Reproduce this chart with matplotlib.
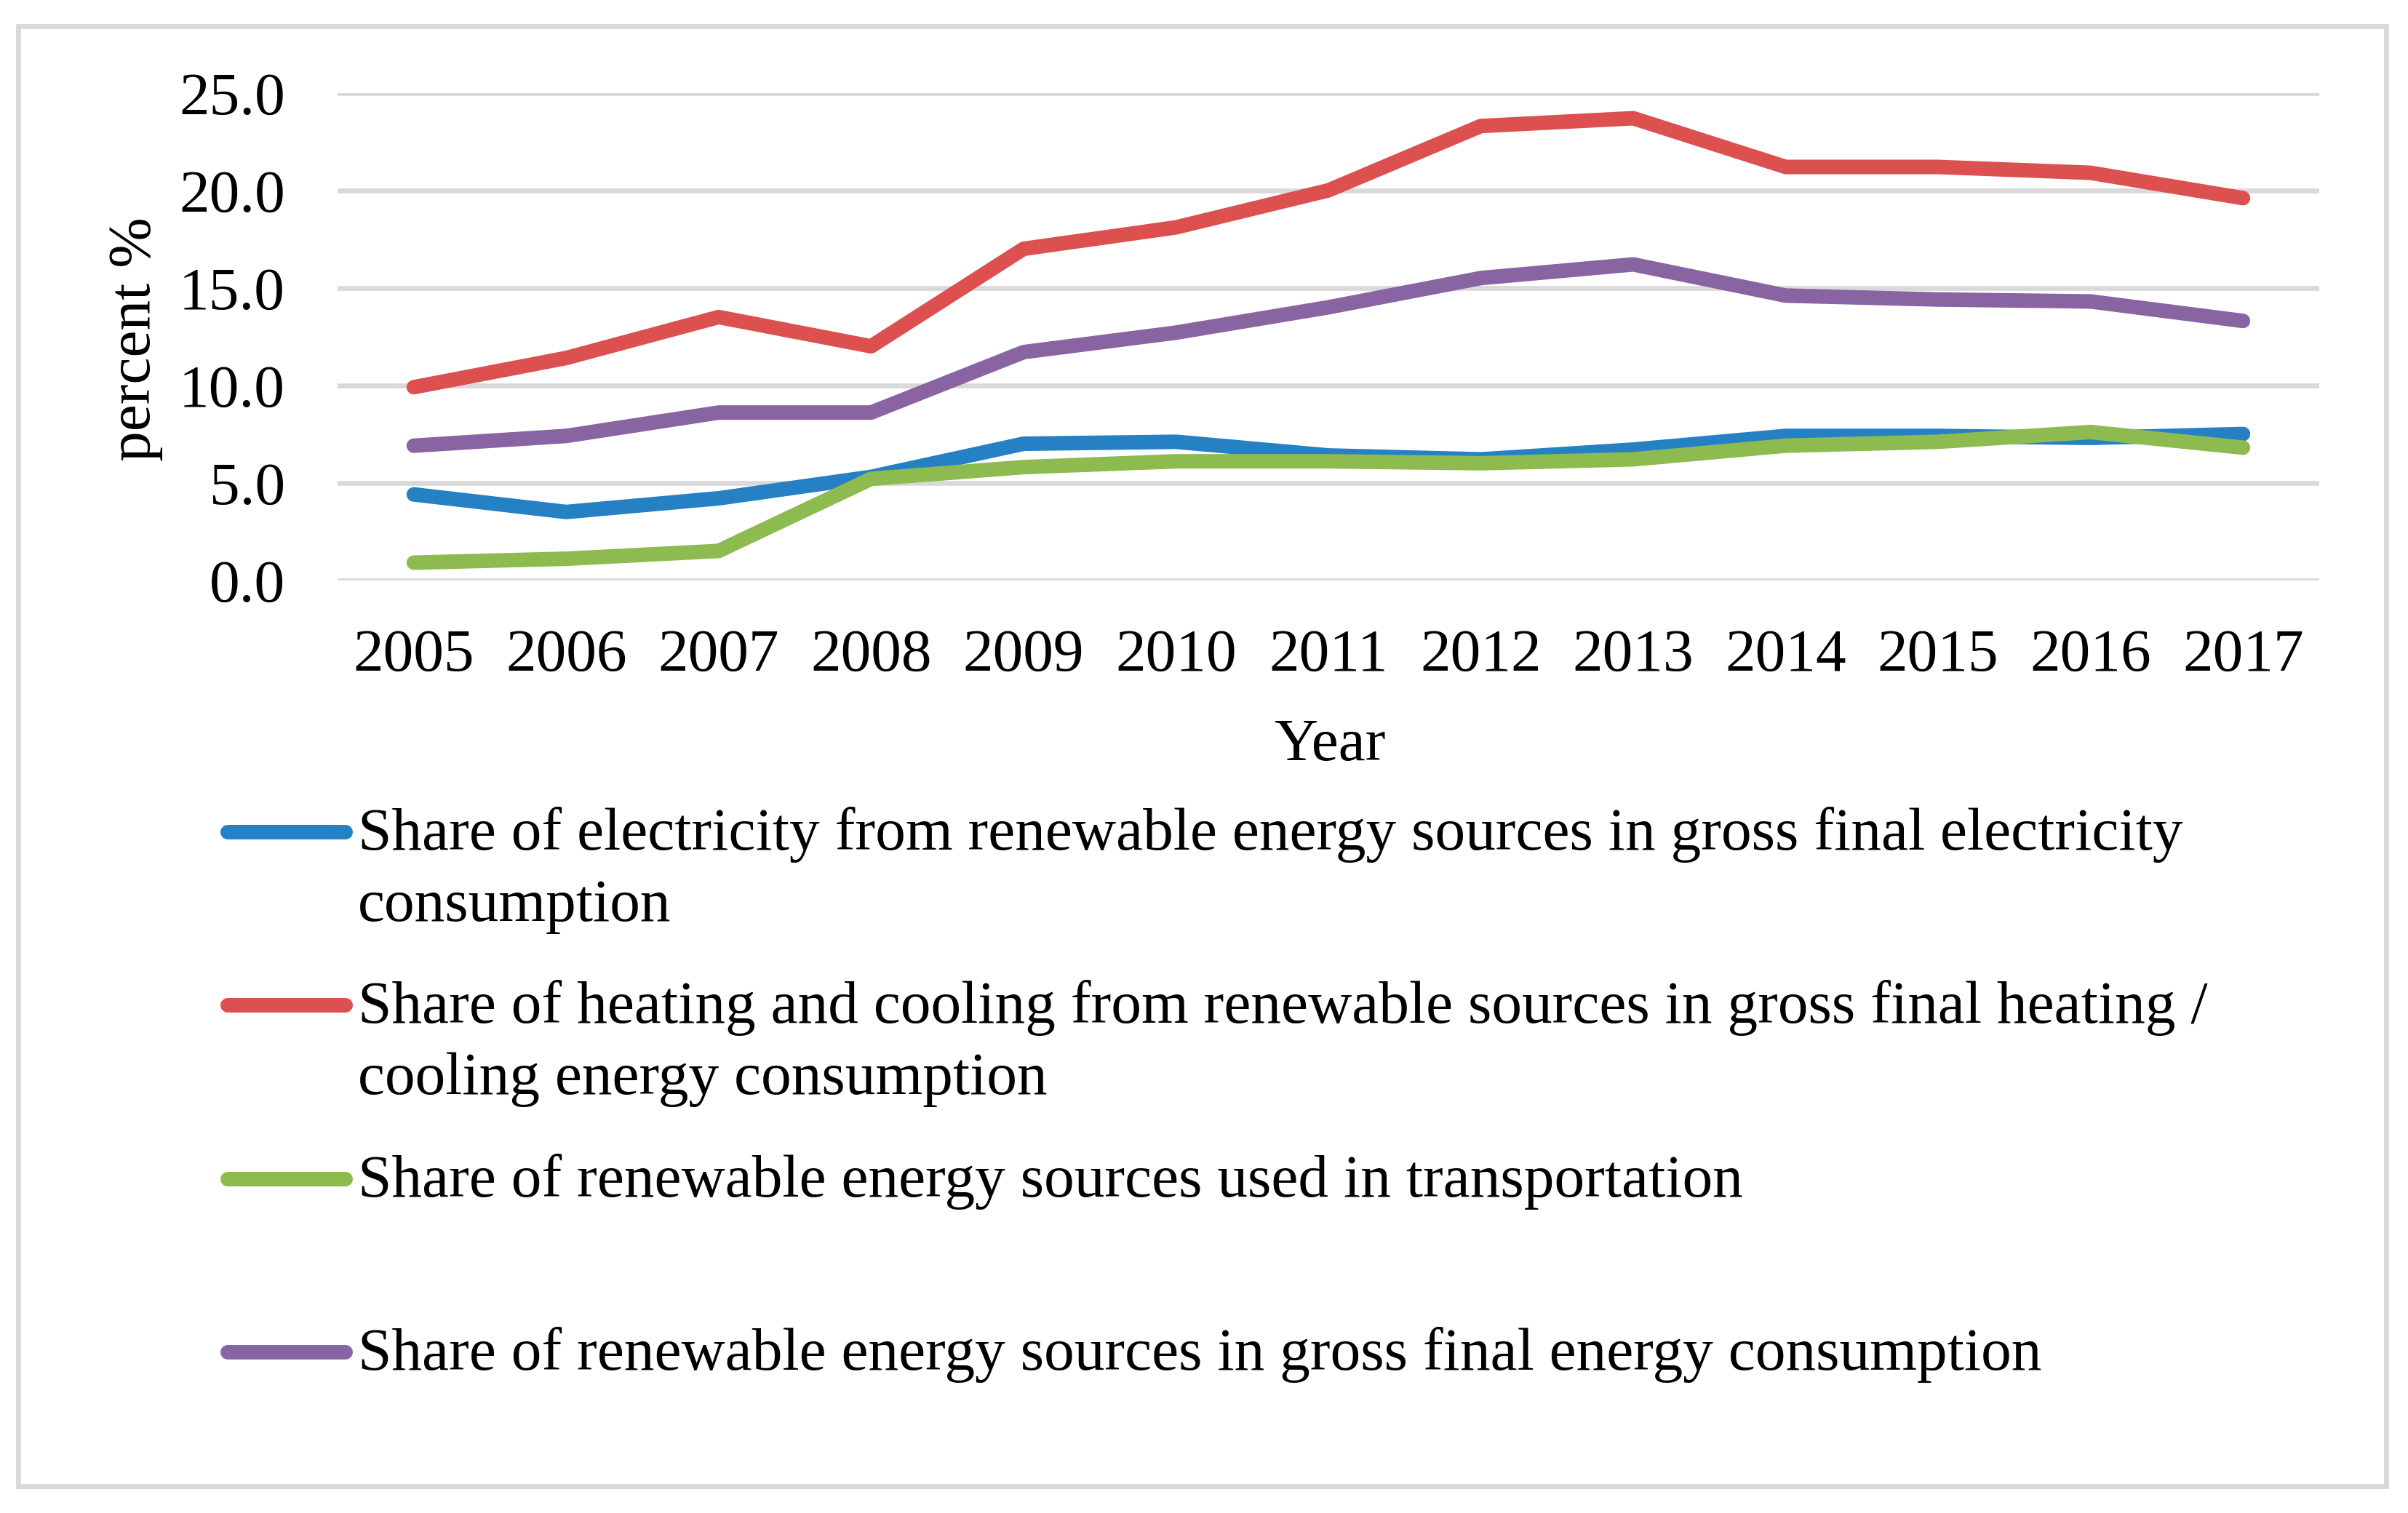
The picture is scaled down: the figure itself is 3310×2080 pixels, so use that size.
import numpy as np
import matplotlib
matplotlib.use("Agg")
import matplotlib.pyplot as plt
from matplotlib.lines import Line2D
from matplotlib.patches import Rectangle

plt.rcParams['font.family'] = ['Liberation Serif', 'DejaVu Serif']

###############################################################################
# Data
# -----------------------
years = ["2005", "2006", "2007", "2008", "2009", "2010", "2011",
         "2012", "2013", "2014", "2015", "2016", "2017"]

electricity = [4.4, 3.5, 4.2, 5.3, 7.0, 7.1, 6.4, 6.2, 6.7, 7.4, 7.4, 7.3, 7.5]
heating_cooling = [9.9, 11.4, 13.5, 12.0, 17.0, 18.1, 20.0, 23.3, 23.7, 21.2, 21.2, 20.9, 19.6]
transport = [0.9, 1.1, 1.5, 5.2, 5.8, 6.1, 6.1, 6.0, 6.2, 6.9, 7.1, 7.6, 6.8]
gross_final = [6.9, 7.4, 8.6, 8.6, 11.7, 12.7, 14.0, 15.5, 16.2, 14.6, 14.4, 14.3, 13.3]

yticks = [0, 5, 10, 15, 20, 25]

labels = [
    "Share of electricity from renewable energy sources in gross final electricity\nconsumption",
    "Share of heating and cooling from renewable sources in gross final heating /\ncooling energy consumption",
    "Share of renewable energy sources used in transportation",
    "Share of renewable energy sources in gross final energy consumption",
]

color_elec, color_heat, color_trans, color_gross = '#2581C4', '#DD5050', '#8DBB50', '#8964A3'
colors = [color_elec, color_heat, color_trans, color_gross]
series = [electricity, heating_cooling, transport, gross_final]

FS = 60
LW = 14.4
W, H = 3310, 2080

###############################################################################
# Figure
# ------
fig = plt.figure(figsize=(W / 100, H / 100), dpi=100)
ax_left, ax_right, ax_top, ax_bot = 464, 3188, 127.7, 797.6
ax = fig.add_axes([ax_left / W, 1 - ax_bot / H, (ax_right - ax_left) / W, (ax_bot - ax_top) / H])

x = np.arange(len(years))
for vals, col in zip(series, colors):
    ax.plot(x, vals, color=col, linewidth=LW, solid_capstyle='round', solid_joinstyle='round', zorder=3)

ax.set_xlim(-0.5, len(years) - 0.5)
ax.set_ylim(0, 25)
ax.set_yticks(yticks)
ax.set_yticklabels([f"{v:.1f}" for v in yticks])
ax.set_xticks(x)
ax.set_xticklabels(years)
ax.yaxis.grid(True, color='#D9D9D9', linewidth=4.8)
ax.set_axisbelow(True)
for s in ax.spines.values():
    s.set_visible(False)
ax.tick_params(axis='y', length=0, pad=52, labelsize=FS)
ax.tick_params(axis='x', length=0, pad=48, labelsize=FS)

fig.text(1828 / W, 1 - 1045 / H, "Year", ha='center', va='baseline', fontsize=FS)
fig.text(186 / W, 1 - 466 / H, "percent %", ha='center', va='center', rotation=90, fontsize=FS)

# legend, drawn by hand so the handle sits on the first text line
slot = 238.3
for i, (lab, col) in enumerate(zip(labels, colors)):
    yh = 1144 + i * slot
    fig.add_artist(Line2D([312.5 / W, 474.5 / W], [1 - yh / H, 1 - yh / H], color=col,
                          linewidth=LW, solid_capstyle='round'))
    for j, line in enumerate(lab.split("\n")):
        fig.text(492 / W, 1 - (yh + 24 + j * 97.6) / H, line, ha='left', va='baseline', fontsize=FS)

# outer frame
fig.add_artist(Rectangle((24.5 / W, 1 - 2042.5 / H), (3280 - 24.5) / W, (2042.5 - 36) / H,
                         transform=fig.transFigure, fill=False, edgecolor='#D9D9D9', linewidth=5))

plt.savefig("out.png", dpi=100)
